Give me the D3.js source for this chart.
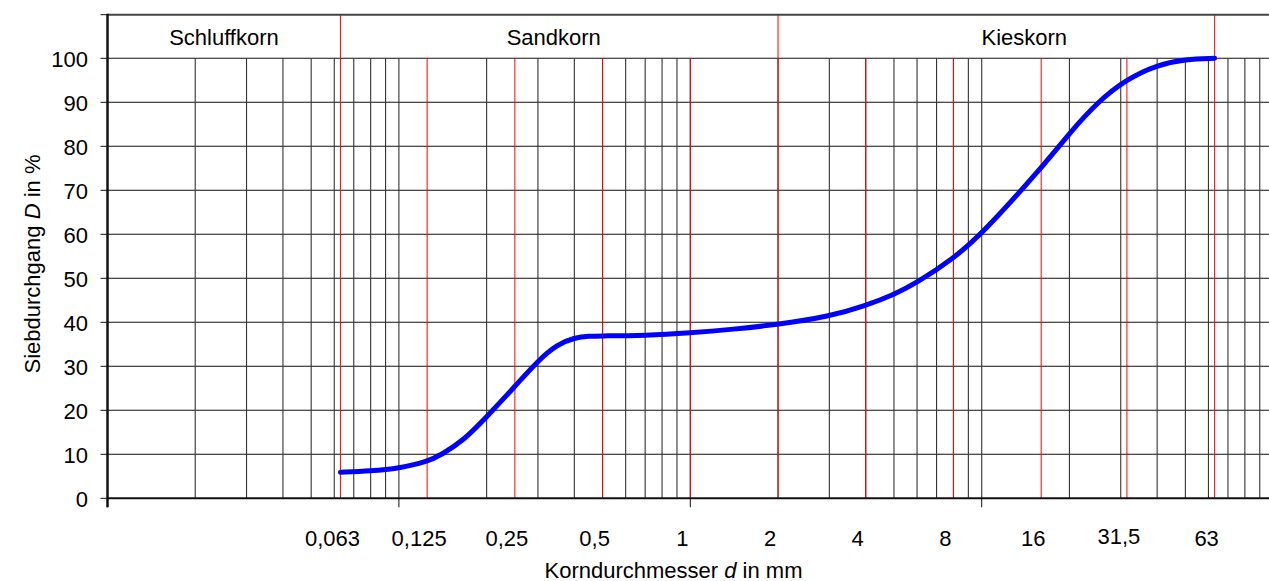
<!DOCTYPE html>
<html>
<head>
<meta charset="utf-8">
<script src="https://cdn.jsdelivr.net/npm/d3@7"></script>
<style>
  html, body { margin: 0; padding: 0; background: #fff; }
  svg { display: block; font-family: "Liberation Sans", Arial, sans-serif; }
</style>
</head>
<body>
<svg id="chart" width="1269" height="581"></svg>
<script>
// ---- data ----
const grainSize = [0.063, 0.08, 0.1, 0.125, 0.14, 0.167, 0.2, 0.25, 0.3, 0.35, 0.4, 0.45, 0.5, 0.7, 1, 1.4, 2, 3, 4, 5, 6, 8, 10, 16, 20, 25, 31.5, 40, 50, 63];
const passing   = [5.9, 6.2, 6.8, 8.3, 9.9, 13.2, 18.5, 25.4, 31.3, 35.0, 36.5, 36.9, 36.9, 37.0, 37.6, 38.4, 39.5, 41.3, 43.8, 46.3, 49.0, 54.5, 60, 75, 83, 90.1, 95.3, 98.5, 99.8, 100];
const xTickValues = [0.063, 0.125, 0.25, 0.5, 1, 2, 4, 8, 16, 31.5, 63];
const xTickLabels = ["0,063", "0,125", "0,25", "0,5", "1", "2", "4", "8", "16", "31,5", "63"];
const sieveLines = [0.063, 0.125, 0.25, 0.5, 1, 2, 4, 8, 16, 31.5, 63];
const bandBounds = [0.063, 2, 63];
const bandNames = ["Schluffkorn", "Sandkorn", "Kieskorn"];
const bandCenters = [0.0251, 0.34, 14];
const yTickValues = [0, 10, 20, 30, 40, 50, 60, 70, 80, 90, 100];
const decades = [0.01, 0.1, 1, 10, 100];

// ---- layout ----
const svg = d3.select("#chart");
const W = 1269, H = 581;
const x = d3.scaleLog().domain([0.01, 100]).range([107.5, 1273.1]);
const y = d3.scaleLinear().domain([0, 100]).range([498.3, 58.3]);
const topY = 14.7;
const fs = 22;

// minor/major log grid lines
const minor = [];
[0.01, 0.1, 1, 10].forEach(dec => { for (let m = 1; m <= 9; m++) minor.push(+(m * dec).toPrecision(3)); });
const gridV = minor.filter(v => v > 0.01);

const g = svg.append("g");

// horizontal gridlines
g.selectAll(".hg").data(yTickValues.filter(v => v > 0)).join("line")
  .attr("x1", x(0.01)).attr("x2", W)
  .attr("y1", d => y(d)).attr("y2", d => y(d))
  .attr("stroke", "#111").attr("stroke-width", 1.1);

// vertical grid lines
g.selectAll(".vg").data(gridV).join("line")
  .attr("x1", d => x(d)).attr("x2", d => x(d))
  .attr("y1", y(100)).attr("y2", y(0))
  .attr("stroke", "#333").attr("stroke-width", 1.1);

// red sieve lines
g.selectAll(".red").data(sieveLines).join("line")
  .attr("x1", d => x(d)).attr("x2", d => x(d))
  .attr("y1", d => bandBounds.includes(d) ? topY : y(100)).attr("y2", y(0))
  .attr("stroke", "#ff0000").attr("stroke-width", 1);

// top border
g.append("line").attr("x1", x(0.01)).attr("x2", W).attr("y1", topY).attr("y2", topY)
  .attr("stroke", "#444").attr("stroke-width", 2);

// x axis line
g.append("line").attr("x1", x(0.01)).attr("x2", W).attr("y1", y(0)).attr("y2", y(0))
  .attr("stroke", "#111").attr("stroke-width", 2);

// x ticks at decades
g.selectAll(".xt").data(decades).join("line")
  .attr("x1", d => x(d)).attr("x2", d => x(d))
  .attr("y1", y(0)).attr("y2", y(0) + 9)
  .attr("stroke", "#111").attr("stroke-width", 1);

// y axis line
g.append("line").attr("x1", x(0.01)).attr("x2", x(0.01)).attr("y1", topY - 1).attr("y2", y(0) + 9)
  .attr("stroke", "#111").attr("stroke-width", 2.5);

// y ticks
g.selectAll(".yt").data(yTickValues).join("line")
  .attr("x1", x(0.01) - 7).attr("x2", x(0.01))
  .attr("y1", d => y(d)).attr("y2", d => y(d))
  .attr("stroke", "#111").attr("stroke-width", 1);
g.append("line").attr("x1", x(0.01) - 7).attr("x2", x(0.01)).attr("y1", topY).attr("y2", topY)
  .attr("stroke", "#111").attr("stroke-width", 1);

// y tick labels
g.selectAll(".yl").data(yTickValues).join("text")
  .attr("x", 88).attr("y", d => y(d) + 8.3)
  .attr("text-anchor", "end").attr("font-size", fs).attr("fill", "#000")
  .text(d => d);

// x tick labels
g.selectAll(".xl").data(xTickValues).join("text")
  .attr("x", d => x(d) - 8).attr("y", (d, i) => xTickLabels[i] === "31,5" ? 543.5 : 546)
  .attr("text-anchor", "middle").attr("font-size", fs).attr("fill", "#000")
  .text((d, i) => xTickLabels[i]);

// band labels
g.selectAll(".bl").data(bandNames).join("text")
  .attr("x", (d, i) => x(bandCenters[i])).attr("y", 45)
  .attr("text-anchor", "middle").attr("font-size", fs).attr("fill", "#000")
  .text(d => d);

// axis titles
const xt = g.append("text").attr("x", 673.5).attr("y", 577.5)
  .attr("text-anchor", "middle").attr("font-size", fs).attr("fill", "#000");
xt.append("tspan").text("Korndurchmesser ");
xt.append("tspan").attr("font-style", "italic").text("d");
xt.append("tspan").text(" in mm");

const yt = g.append("text").attr("transform", "translate(40,264) rotate(-90)")
  .attr("text-anchor", "middle").attr("font-size", fs).attr("fill", "#000");
yt.append("tspan").text("Siebdurchgang ");
yt.append("tspan").attr("font-style", "italic").text("D");
yt.append("tspan").text(" in %");

// curve
const pts = grainSize.map((d, i) => [d, passing[i]]);
const line = d3.line().x(d => x(d[0])).y(d => y(d[1])).curve(d3.curveBasis);
g.append("path").attr("d", line(pts))
  .attr("fill", "none").attr("stroke", "#0000ff").attr("stroke-width", 5)
  .attr("stroke-linecap", "round").attr("stroke-linejoin", "round");
</script>
</body>
</html>
